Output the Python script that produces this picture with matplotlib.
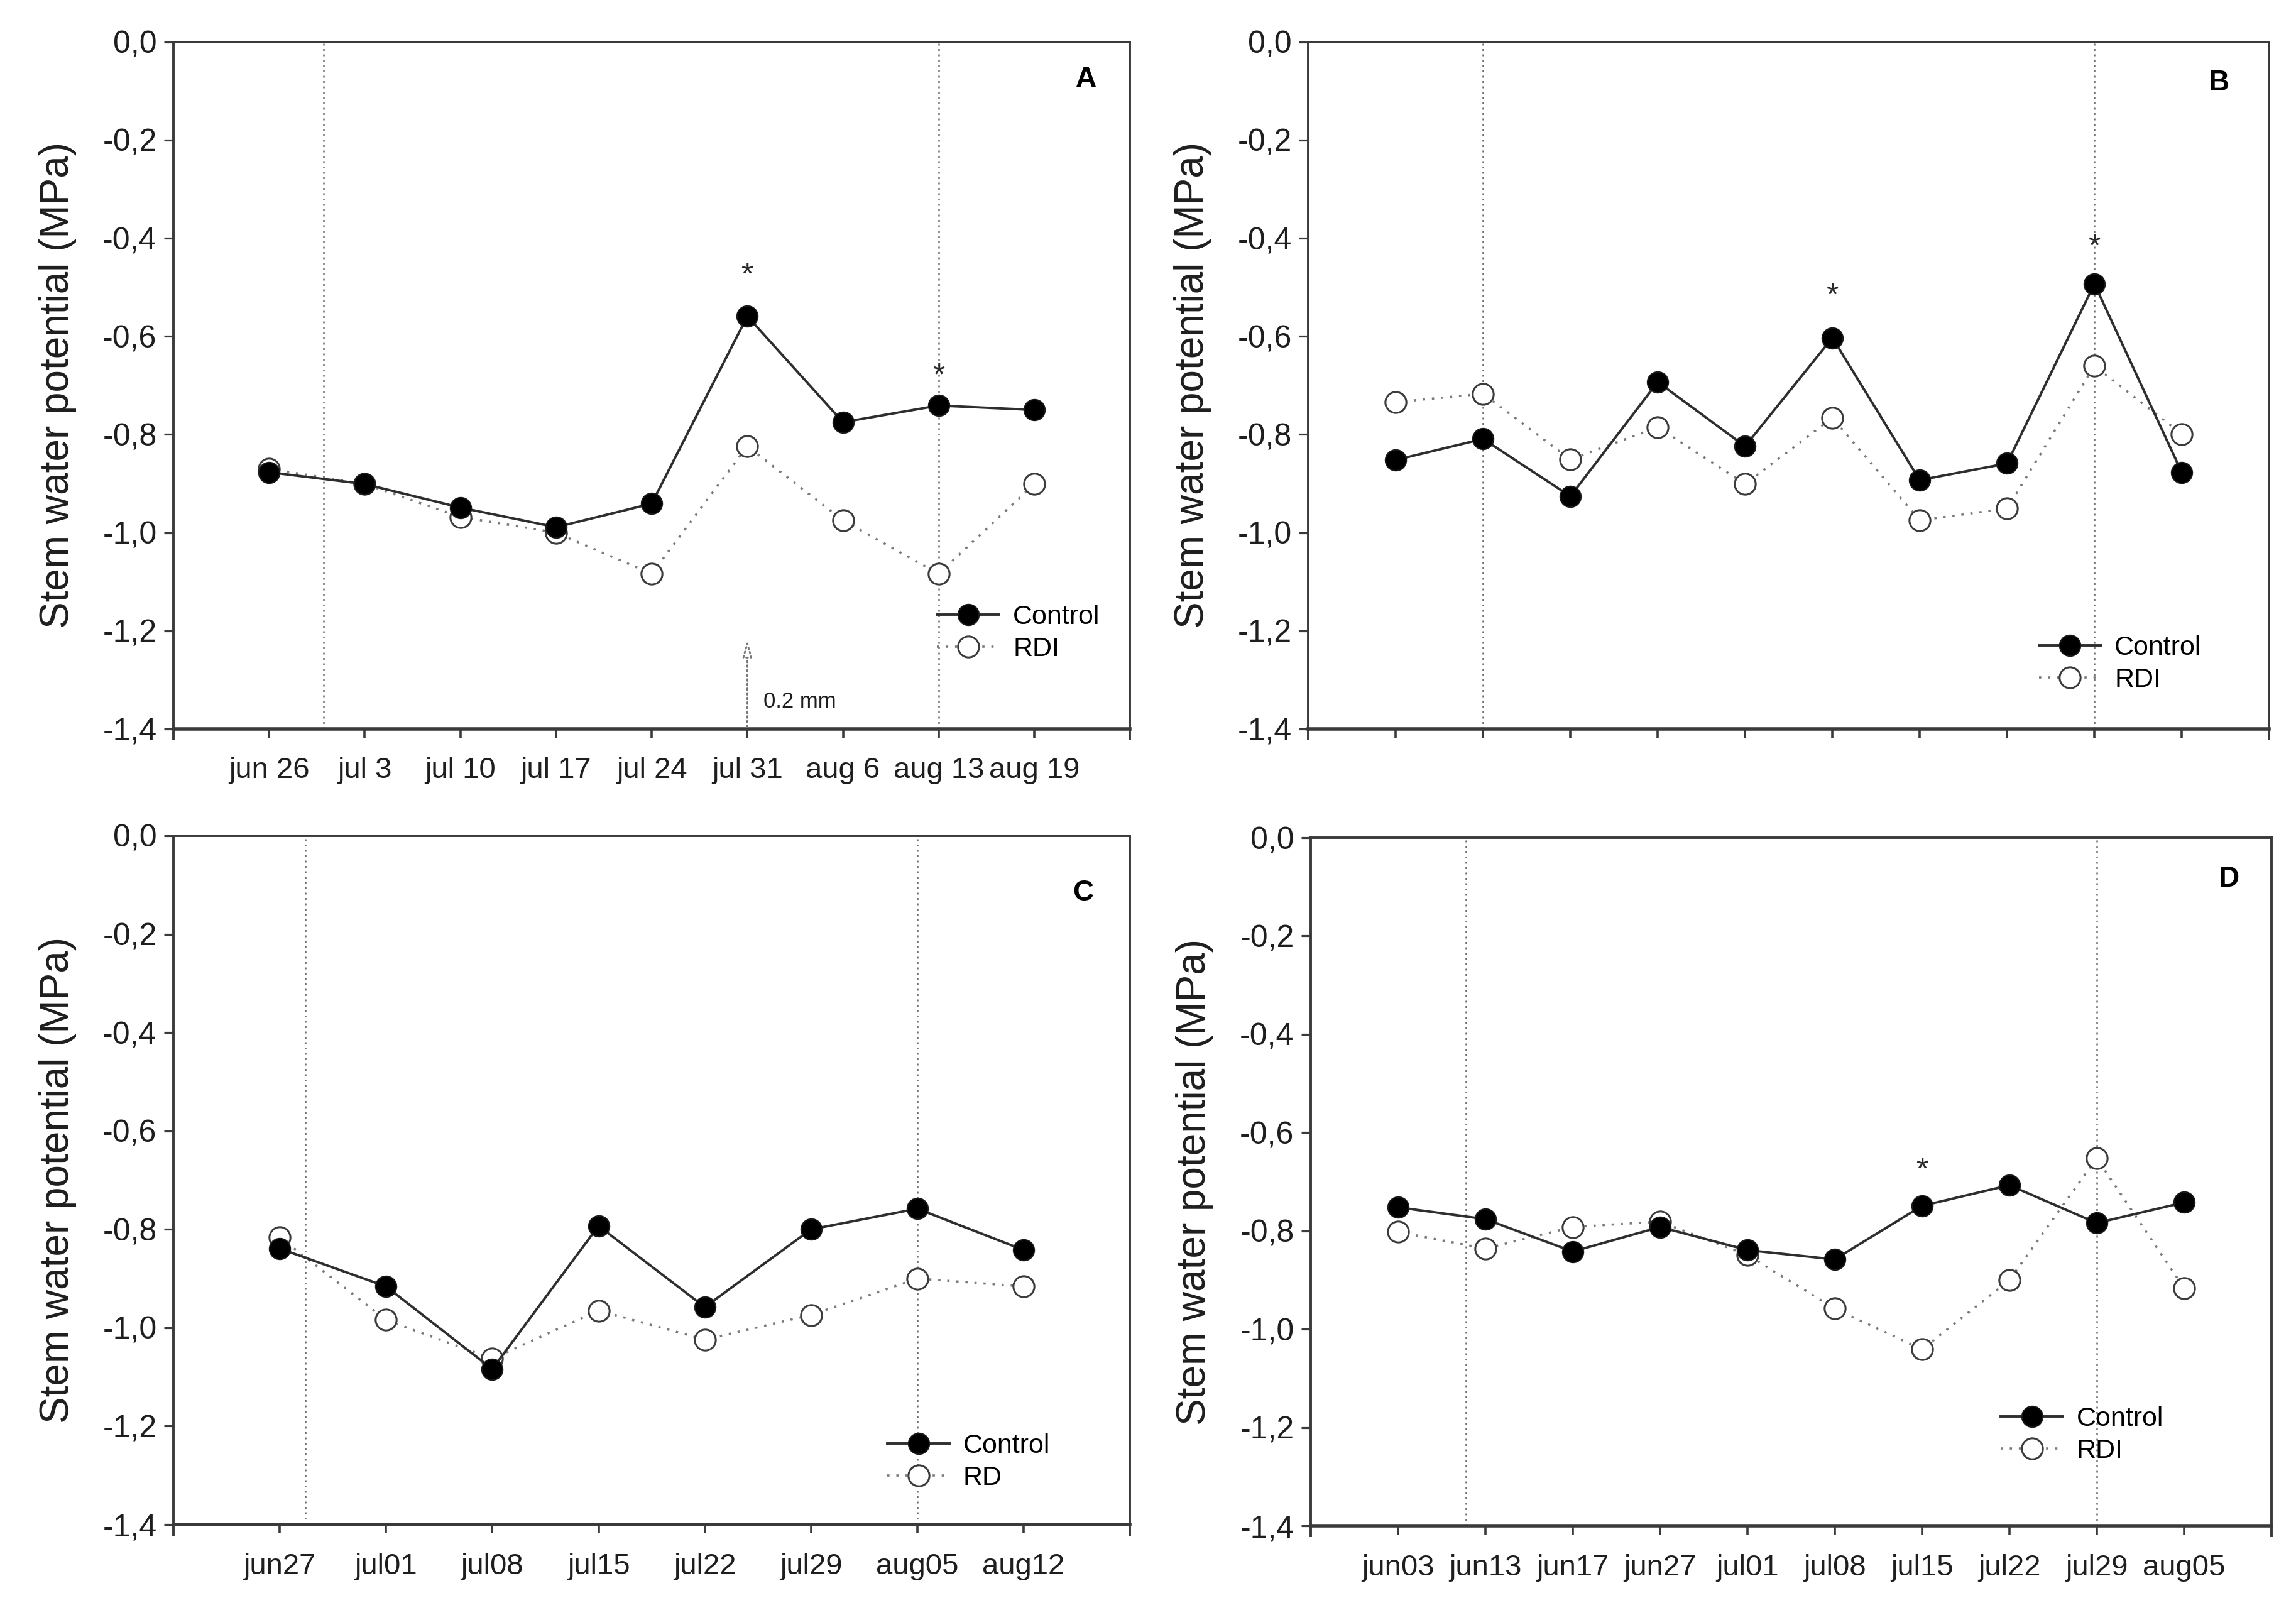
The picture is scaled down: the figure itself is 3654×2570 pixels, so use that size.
import matplotlib
matplotlib.use("Agg")
import matplotlib.pyplot as plt
from matplotlib.ticker import FuncFormatter, MultipleLocator

plt.rcParams['font.family'] = ['Liberation Sans', 'DejaVu Sans']

# ---------------- data ----------------
dates_a = ["jun 26", "jul 3", "jul 10", "jul 17", "jul 24", "jul 31", "aug 6", "aug 13", "aug 19"]
control_a = [-0.877, -0.901, -0.949, -0.989, -0.941, -0.559, -0.775, -0.741, -0.750]
rdi_a = [-0.870, -0.901, -0.968, -1.000, -1.084, -0.824, -0.975, -1.084, -0.901]
stars_a = [(5, -0.459), (7, -0.664)]
vlines_a = [0.57, 7.0]

dates_b = ["", "", "", "", "", "", "", "", "", ""]
control_b = [-0.852, -0.809, -0.926, -0.693, -0.824, -0.603, -0.893, -0.859, -0.493, -0.877]
rdi_b = [-0.734, -0.717, -0.851, -0.785, -0.901, -0.766, -0.975, -0.951, -0.660, -0.799]
stars_b = [(5, -0.501), (8, -0.401)]
vlines_b = [1.0, 8.0]

dates_c = ["jun27", "jul01", "jul08", "jul15", "jul22", "jul29", "aug05", "aug12"]
control_c = [-0.839, -0.916, -1.084, -0.793, -0.958, -0.800, -0.758, -0.842]
rdi_c = [-0.816, -0.984, -1.063, -0.965, -1.024, -0.974, -0.900, -0.916]
stars_c = []
vlines_c = [0.24, 6.0]

dates_d = ["jun03", "jun13", "jun17", "jun27", "jul01", "jul08", "jul15", "jul22", "jul29", "aug05"]
control_d = [-0.752, -0.776, -0.842, -0.792, -0.839, -0.858, -0.749, -0.707, -0.784, -0.742]
rdi_d = [-0.802, -0.836, -0.792, -0.781, -0.849, -0.958, -1.041, -0.900, -0.652, -0.916]
stars_d = [(6, -0.660)]
vlines_d = [0.78, 8.0]

ylabel = "Stem water potential (MPa)"

fig = plt.figure(figsize=(36.55, 25.70), dpi=100)

# letter, axes rect, dates, control, rdi, stars, vlines, rdi label, legend anchor, letter pos
panels = [
    ("A", [0.0755, 0.5487, 0.4165, 0.4253], dates_a, control_a, rdi_a, stars_a, vlines_a, "RDI",
     (0.994, 0.1395), (0.954, 0.946)),
    ("B", [0.5697, 0.5487, 0.4183, 0.4253], dates_b, control_b, rdi_b, stars_b, vlines_b, "RDI",
     (0.955, 0.0945), (0.948, 0.940)),
    ("C", [0.0755, 0.0560, 0.4165, 0.4265], dates_c, control_c, rdi_c, stars_c, vlines_c, "RD",
     (0.942, 0.091), (0.951, 0.917)),
    ("D", [0.5707, 0.0552, 0.4183, 0.4261], dates_d, control_d, rdi_d, stars_d, vlines_d, "RDI",
     (0.913, 0.132), (0.956, 0.940)),
]

fmt = FuncFormatter(lambda v, p: f"{v:.1f}".replace(".", ",").replace("-0,0", "0,0"))
spine_col = "#3a3a3a"
text_col = "#1e1e1e"

for letter, pos, dates, ctrl, rdi, stars, vls, rdlabel, leg_anchor, let_pos in panels:
    ax = fig.add_axes(pos)
    n = len(ctrl)
    xs = list(range(n))
    for v in vls:
        ax.axvline(v, color="#6e6e6e", lw=1.8, ls=(0, (1.2, 2.2)), zorder=1)
    ax.plot(xs, rdi, ls=(0, (1.0, 3.0)), color="#7a7a7a", lw=2.6, marker="o", ms=24,
            mfc="white", mec="#3c3c3c", mew=2.2, label=rdlabel, zorder=3)
    ax.plot(xs, ctrl, ls="-", color="#2e2e2e", lw=2.8, marker="o", ms=24,
            mfc="black", mec="#1a1a1a", mew=1.5, label="Control", zorder=4)
    for sx, sy in stars:
        ax.text(sx, sy - 0.035, "*", ha="center", va="baseline", fontsize=36, color="#2a2a2a")
    ax.set_xlim(-1, n)
    ax.set_ylim(-1.4, 0.0)
    ax.set_xticks(xs)
    ax.set_xticklabels(dates, fontsize=34)
    ax.yaxis.set_major_locator(MultipleLocator(0.2))
    ax.yaxis.set_major_formatter(fmt)
    ax.tick_params(axis="y", labelsize=36, length=11, width=2.3, direction="out", colors=spine_col,
                   labelcolor=text_col, pad=8)
    ax.tick_params(axis="x", length=10, width=2.6, direction="out", colors=spine_col,
                   labelcolor=text_col, pad=22)
    for sp in ax.spines.values():
        sp.set_color(spine_col)
        sp.set_linewidth(2.8)
    ax.spines["bottom"].set_linewidth(4.0)
    # left/right frame lines run a little below the bottom axis line
    for xe in (0, 1):
        ax.plot([xe, xe], [0, -0.016], transform=ax.transAxes, color=spine_col, lw=2.8,
                clip_on=False, solid_capstyle="butt")
    ax.set_ylabel(ylabel, fontsize=46, color=text_col, labelpad=30)
    ax.text(let_pos[0], let_pos[1], letter, transform=ax.transAxes, fontsize=33, fontweight="bold",
            ha="center", va="center")
    handles, labels = ax.get_legend_handles_labels()
    ax.legend(handles[::-1], labels[::-1], loc="center right", bbox_to_anchor=leg_anchor,
              frameon=False, fontsize=31, handlelength=2.3, handletextpad=0.5, labelspacing=0.25,
              borderpad=0.4)
    if letter == "A":
        ax.annotate("", xy=(5, -1.216), xytext=(5, -1.4),
                    arrowprops=dict(arrowstyle="-|>,head_length=1.6,head_width=0.45", ls=":",
                                    lw=2.0, color="#777777", fc="white", ec="#777777"))
        ax.text(5.17, -1.344, "0.2 mm", fontsize=25, va="center", ha="left", color=text_col)

fig.savefig("out.png", dpi=100)
